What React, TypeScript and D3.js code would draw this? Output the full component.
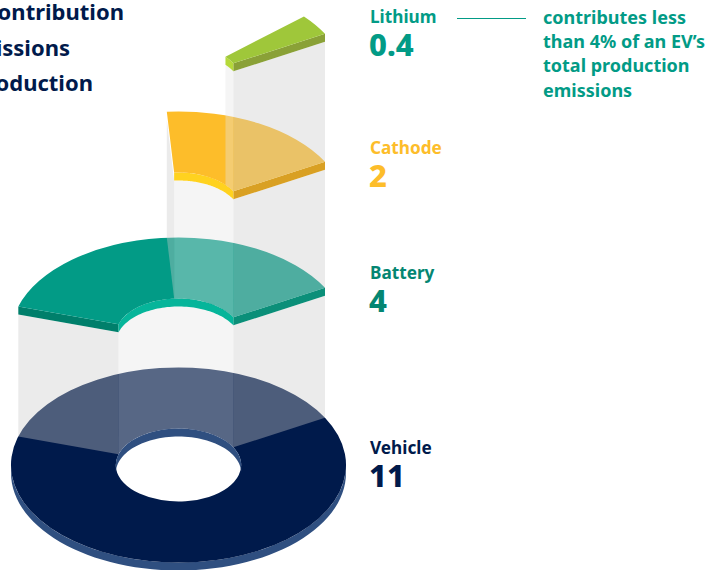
import React from "react";
import * as d3 from "d3";

const W = 711, H = 570;

// Data
const layerNames = ["Vehicle", "Battery", "Cathode", "Lithium"];
const layerValues = ["11", "4", "2", "0.4"];
// sweep of each sector, degrees, counter-clockwise from the shared right-hand edge
const layerSweeps = [360, 134, 65, 12.5];
const layerHeights = [0, 130, 256, 384];
const titleLines = ["Lithium's contribution", "to EV emissions", "during production"];
const noteLines = ["contributes less", "than 4% of an EV\u2019s", "total production", "emissions"];

// Styles
const surfaceColors = ["#001a4b", "#029b86", "#fdbd2a", "#9fc73a"];
const innerColors = ["#2f4f80", "#06b59a", "#ffd21f", "#b5d93a"];
const sideColors = ["#2f4f80", "#0b8f79", "#d9a023", "#8aa137"];
const leftColors = ["#2f4f80", "#007f6b", "#d9a023", "#8aa137"];
const labelColors = ["#001a4b", "#048672", "#fdbd2a", "#029b86"];
const labelY = [454, 279, 154, 23];
const valueY = [487, 312, 187, 55.5];

const cx = 178.5, cy = 465, R = 167.5, r = 62.7, squash = 0.582, depth = 8;
const startDeg = 29;

const rad = (d: number) => (d * Math.PI) / 180;
const x = (deg: number, rr: number) => cx + rr * Math.cos(rad(deg));
const y = (deg: number, rr: number, up: number) => cy - up - rr * squash * Math.sin(rad(deg));
const line = d3.line<[number, number]>();

function band(a0: number, a1: number, rr: number, upTop: number, upBottom: number) {
  const angles = d3.range(0, 61).map((i) => a0 + ((a1 - a0) * i) / 60);
  const top = angles.map((a) => [x(a, rr), y(a, rr, upTop)] as [number, number]);
  const bottom = angles.slice().reverse().map((a) => [x(a, rr), y(a, rr, upBottom)] as [number, number]);
  return line(top.concat(bottom)) + "Z";
}
function radial(a: number, upTop: number, upBottom: number) {
  const pts: [number, number][] = [
    [x(a, R), y(a, R, upTop)],
    [x(a, r), y(a, r, upTop)],
    [x(a, r), y(a, r, upBottom)],
    [x(a, R), y(a, R, upBottom)],
  ];
  return line(pts) + "Z";
}
function surface(a0: number, a1: number, up: number) {
  const arc = d3.arc()({
    innerRadius: r,
    outerRadius: R,
    startAngle: rad(90 - a1),
    endAngle: rad(90 - a0),
  } as any) as string;
  return { d: arc, transform: `translate(${cx},${cy - up}) scale(1,${squash})` };
}

const WALL = { side: "#cacaca", inner: "#e6e6e6", opacity: 0.38 };

function Layer({ i }: { i: number }) {
  const up = layerHeights[i];
  const a0 = startDeg;
  const a1 = startDeg + layerSweeps[i];
  const full = layerSweeps[i] >= 360;
  const s = surface(a0, a1, up);
  if (full) {
    return (
      <g>
        <path d={band(180, 360, R, up, up - depth)} fill={sideColors[i]} />
        <path d={s.d} transform={s.transform} fill={surfaceColors[i]} />
        <path d={band(0, 180, r, up, up - depth)} fill={innerColors[i]} />
      </g>
    );
  }
  const below = layerHeights[i - 1];
  const leftFront = x(a1, R) < x(a1, r);
  return (
    <g>
      {leftFront && (
        <path d={radial(a1, up - depth, below)} fill={WALL.side} opacity={WALL.opacity} />
      )}
      <path d={band(a0, a1, r, up - depth, below)} fill={WALL.inner} opacity={WALL.opacity} />
      <path d={radial(a0, up - depth, below)} fill={WALL.side} opacity={WALL.opacity} />
      {layerSweeps[i] > 90 && <path d={radial(a1, up, up - depth)} fill={leftColors[i]} />}
      <path d={radial(a0, up, up - depth)} fill={sideColors[i]} />
      <path d={band(a0, a1, r, up, up - depth)} fill={innerColors[i]} />
      <path d={s.d} transform={s.transform} fill={surfaceColors[i]} />
    </g>
  );
}

const FONT = "'Noto Sans', sans-serif";

export default function App() {
  return (
    <svg
      width={W}
      height={H}
      viewBox={`0 0 ${W} ${H}`}
      style={{ position: "absolute", left: 0, top: 0, background: "#fff", fontFamily: FONT }}
    >
      {layerNames.map((_, i) => (
        <Layer key={i} i={i} />
      ))}
      <g fontWeight={700} fill="#001a4b" fontSize={22}>
        {titleLines.map((t, i) => (
          <text key={t} x={124 - [0, 54, 31][i]} y={20 + i * 35.5} textAnchor="end">
            {t}
          </text>
        ))}
      </g>
      {layerNames.map((n, i) => (
        <g key={n} fill={labelColors[i]}>
          <text x={370} y={labelY[i]} fontSize={17.2} fontWeight={700}>
            {n}
          </text>
          <text x={369} y={valueY[i]} fontSize={31} fontWeight={800}>
            {layerValues[i]}
          </text>
        </g>
      ))}
      <line x1={457} x2={526} y1={18.5} y2={18.5} stroke="#029b86" strokeWidth={1.2} />
      <g fill="#029b86" fontSize={18} fontWeight={700}>
        {noteLines.map((t, i) => (
          <text key={t} x={543} y={24 + i * 24.2}>
            {t}
          </text>
        ))}
      </g>
    </svg>
  );
}
